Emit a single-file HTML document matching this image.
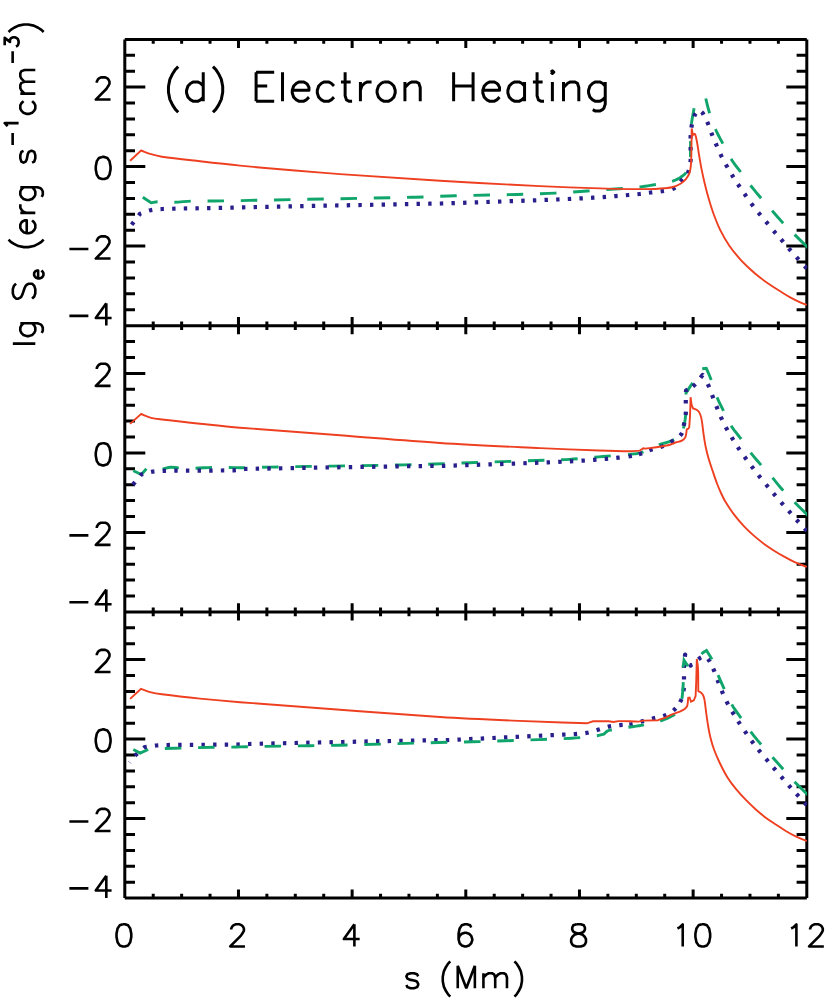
<!DOCTYPE html>
<html><head><meta charset="utf-8"><title>Electron Heating</title>
<style>html,body{margin:0;padding:0;background:#fff;font-family:"Liberation Sans",sans-serif;}svg{display:block}</style></head>
<body>
<svg width="830" height="998" viewBox="0 0 830 998">
<rect width="830" height="998" fill="#fff"/>
<path d="M124.8 39.4V898.0 M806.8 39.4V898.0 M124.8 39.4H806.8 M124.8 325.7H806.8 M124.8 611.9H806.8 M124.8 898.0H806.8 M153.22 39.4v4.3 M153.22 321.4v8.6 M153.22 607.6v8.6 M153.22 898.0v-4.3 M181.63 39.4v4.3 M181.63 321.4v8.6 M181.63 607.6v8.6 M181.63 898.0v-4.3 M210.05 39.4v4.3 M210.05 321.4v8.6 M210.05 607.6v8.6 M210.05 898.0v-4.3 M238.47 39.4v8.6 M238.47 317.09999999999997v17.2 M238.47 603.3v17.2 M238.47 898.0v-8.6 M266.88 39.4v4.3 M266.88 321.4v8.6 M266.88 607.6v8.6 M266.88 898.0v-4.3 M295.30 39.4v4.3 M295.30 321.4v8.6 M295.30 607.6v8.6 M295.30 898.0v-4.3 M323.72 39.4v4.3 M323.72 321.4v8.6 M323.72 607.6v8.6 M323.72 898.0v-4.3 M352.13 39.4v8.6 M352.13 317.09999999999997v17.2 M352.13 603.3v17.2 M352.13 898.0v-8.6 M380.55 39.4v4.3 M380.55 321.4v8.6 M380.55 607.6v8.6 M380.55 898.0v-4.3 M408.97 39.4v4.3 M408.97 321.4v8.6 M408.97 607.6v8.6 M408.97 898.0v-4.3 M437.38 39.4v4.3 M437.38 321.4v8.6 M437.38 607.6v8.6 M437.38 898.0v-4.3 M465.80 39.4v8.6 M465.80 317.09999999999997v17.2 M465.80 603.3v17.2 M465.80 898.0v-8.6 M494.22 39.4v4.3 M494.22 321.4v8.6 M494.22 607.6v8.6 M494.22 898.0v-4.3 M522.63 39.4v4.3 M522.63 321.4v8.6 M522.63 607.6v8.6 M522.63 898.0v-4.3 M551.05 39.4v4.3 M551.05 321.4v8.6 M551.05 607.6v8.6 M551.05 898.0v-4.3 M579.47 39.4v8.6 M579.47 317.09999999999997v17.2 M579.47 603.3v17.2 M579.47 898.0v-8.6 M607.88 39.4v4.3 M607.88 321.4v8.6 M607.88 607.6v8.6 M607.88 898.0v-4.3 M636.30 39.4v4.3 M636.30 321.4v8.6 M636.30 607.6v8.6 M636.30 898.0v-4.3 M664.72 39.4v4.3 M664.72 321.4v8.6 M664.72 607.6v8.6 M664.72 898.0v-4.3 M693.13 39.4v8.6 M693.13 317.09999999999997v17.2 M693.13 603.3v17.2 M693.13 898.0v-8.6 M721.55 39.4v4.3 M721.55 321.4v8.6 M721.55 607.6v8.6 M721.55 898.0v-4.3 M749.97 39.4v4.3 M749.97 321.4v8.6 M749.97 607.6v8.6 M749.97 898.0v-4.3 M778.38 39.4v4.3 M778.38 321.4v8.6 M778.38 607.6v8.6 M778.38 898.0v-4.3 M124.8 55.30h10.2 M806.8 55.30h-10.2 M124.8 71.20h10.2 M806.8 71.20h-10.2 M124.8 87.10h20.5 M806.8 87.10h-20.5 M124.8 103.00h10.2 M806.8 103.00h-10.2 M124.8 118.90h10.2 M806.8 118.90h-10.2 M124.8 134.80h10.2 M806.8 134.80h-10.2 M124.8 150.70h10.2 M806.8 150.70h-10.2 M124.8 166.60h20.5 M806.8 166.60h-20.5 M124.8 182.50h10.2 M806.8 182.50h-10.2 M124.8 198.40h10.2 M806.8 198.40h-10.2 M124.8 214.30h10.2 M806.8 214.30h-10.2 M124.8 230.20h10.2 M806.8 230.20h-10.2 M124.8 246.10h20.5 M806.8 246.10h-20.5 M124.8 262.00h10.2 M806.8 262.00h-10.2 M124.8 277.90h10.2 M806.8 277.90h-10.2 M124.8 293.80h10.2 M806.8 293.80h-10.2 M124.8 309.70h10.2 M806.8 309.70h-10.2 M124.8 341.60h10.2 M806.8 341.60h-10.2 M124.8 357.50h10.2 M806.8 357.50h-10.2 M124.8 373.40h20.5 M806.8 373.40h-20.5 M124.8 389.30h10.2 M806.8 389.30h-10.2 M124.8 405.20h10.2 M806.8 405.20h-10.2 M124.8 421.10h10.2 M806.8 421.10h-10.2 M124.8 437.00h10.2 M806.8 437.00h-10.2 M124.8 452.90h20.5 M806.8 452.90h-20.5 M124.8 468.80h10.2 M806.8 468.80h-10.2 M124.8 484.70h10.2 M806.8 484.70h-10.2 M124.8 500.60h10.2 M806.8 500.60h-10.2 M124.8 516.50h10.2 M806.8 516.50h-10.2 M124.8 532.40h20.5 M806.8 532.40h-20.5 M124.8 548.30h10.2 M806.8 548.30h-10.2 M124.8 564.20h10.2 M806.8 564.20h-10.2 M124.8 580.10h10.2 M806.8 580.10h-10.2 M124.8 596.00h10.2 M806.8 596.00h-10.2 M124.8 627.80h10.2 M806.8 627.80h-10.2 M124.8 643.70h10.2 M806.8 643.70h-10.2 M124.8 659.60h20.5 M806.8 659.60h-20.5 M124.8 675.50h10.2 M806.8 675.50h-10.2 M124.8 691.40h10.2 M806.8 691.40h-10.2 M124.8 707.30h10.2 M806.8 707.30h-10.2 M124.8 723.20h10.2 M806.8 723.20h-10.2 M124.8 739.10h20.5 M806.8 739.10h-20.5 M124.8 755.00h10.2 M806.8 755.00h-10.2 M124.8 770.90h10.2 M806.8 770.90h-10.2 M124.8 786.80h10.2 M806.8 786.80h-10.2 M124.8 802.70h10.2 M806.8 802.70h-10.2 M124.8 818.60h20.5 M806.8 818.60h-20.5 M124.8 834.50h10.2 M806.8 834.50h-10.2 M124.8 850.40h10.2 M806.8 850.40h-10.2 M124.8 866.30h10.2 M806.8 866.30h-10.2 M124.8 882.20h10.2 M806.8 882.20h-10.2" fill="none" stroke="#000" stroke-width="3.0" stroke-linecap="butt"/>
<defs><clipPath id="c"><rect x="124.80" y="39.40" width="682.30" height="858.60"/></clipPath><clipPath id="g0"><rect x="124.80" y="39.40" width="506.20" height="286.30"/></clipPath><clipPath id="b0"><rect x="124.80" y="39.40" width="508.50" height="286.30"/></clipPath><clipPath id="g1"><rect x="124.80" y="325.70" width="500.20" height="286.20"/></clipPath><clipPath id="b1"><rect x="124.80" y="325.70" width="499.50" height="286.20"/></clipPath><clipPath id="g2"><rect x="124.80" y="611.90" width="495.20" height="286.10"/></clipPath><clipPath id="b2"><rect x="124.80" y="611.90" width="500.50" height="286.10"/></clipPath></defs>
<g fill="none" stroke-linejoin="miter">
<path clip-path="url(#g0)" d="M142.80 197.20 L151.10 202.70 L151.10 202.70 C153.37 202.40 155.61 201.85 157.90 201.80 C163.47 201.68 169.03 202.32 174.60 202.20 C180.01 202.08 185.39 201.29 190.80 201.10 C196.50 200.89 202.20 201.03 207.90 201.00 C213.30 200.97 218.70 200.98 224.10 200.90 C232.60 200.78 241.10 200.56 249.60 200.40 C304.87 199.33 360.14 198.42 415.40 197.20 C426.40 196.96 437.40 196.31 448.40 196.00 C481.73 195.05 515.08 194.80 548.40 193.40 C570.53 192.47 592.61 190.55 614.70 189.00 C622.97 188.42 631.26 187.90 639.50 187.00 C645.00 186.40 650.45 185.45 655.90 184.50 C661.32 183.55 666.79 182.74 672.10 181.30 C674.56 180.63 676.87 179.44 679.10 178.20 C680.86 177.23 682.43 175.95 684.00 174.70 C684.77 174.08 685.52 173.40 686.10 172.60 C687.03 171.32 688.01 170.01 688.50 168.50 C689.39 165.75 689.98 162.88 690.20 160.00 C690.68 153.68 690.40 147.33 690.60 141.00 C690.77 135.66 690.74 130.31 691.30 125.00 C691.90 119.32 693.17 113.73 694.10 108.10 L694.10 108.10 L705.00 95.50 L705.00 95.50 C706.57 101.50 707.86 107.58 709.70 113.50 C711.36 118.86 713.25 124.16 715.50 129.30 C717.63 134.18 720.33 138.79 722.80 143.50 C725.50 148.65 727.91 153.98 731.00 158.90 C733.89 163.50 737.47 167.63 740.70 172.00 C743.97 176.43 747.12 180.95 750.50 185.30 C753.92 189.69 757.49 193.97 761.10 198.20 C764.69 202.40 768.44 206.46 772.10 210.60 C775.81 214.79 779.37 219.12 783.20 223.20 C786.88 227.12 790.78 230.82 794.60 234.60 C799.21 239.16 803.87 243.67 808.50 248.20" stroke="#10a56b" stroke-width="2.9" stroke-dasharray="16.5 16.75" stroke-dashoffset="0"/>
<path clip-path="url(#c)" d="M639.50 187.00L642.25 186.67L644.98 186.30L647.72 185.88L650.45 185.44L655.90 184.50 M672.10 181.30L673.32 180.92L674.51 180.47L675.69 179.96L677.41 179.11L679.10 178.20L680.39 177.42L681.62 176.56L684.19 174.54L685.30 173.54L686.10 172.60 M690.38 156.98L690.44 155.26L690.47 153.67L690.51 150.51L690.52 145.75L690.56 142.58L690.60 141.00 M691.41 124.05L691.65 122.17L691.86 120.76L692.33 117.94L693.61 110.91L694.08 108.23 M705.77 98.51L707.25 104.53L708.01 107.53L708.41 109.03L708.82 110.53L709.25 112.02L709.64 113.29 M715.45 129.18L716.04 130.51L716.61 131.72L717.19 132.91L718.40 135.28L719.65 137.63L722.18 142.32L722.84 143.58 M731.00 158.90L731.74 160.04L732.50 161.16L733.28 162.27L734.08 163.37L735.72 165.54L739.06 169.83L740.70 172.00 M750.50 185.30L752.22 187.49L753.96 189.66L755.73 191.81L758.40 195.02L761.10 198.20 M772.10 210.60L773.94 212.71L777.60 216.94L779.44 219.05L781.31 221.14L783.20 223.20 M794.60 234.60L799.22 239.14L807.94 247.66" stroke="#10a56b" stroke-width="2.9"/>
<path clip-path="url(#b0)" d="M131.64 224.68 L139.95 213.80 L139.95 213.80 C143.43 212.60 146.80 210.98 150.40 210.20 C154.26 209.37 158.25 209.12 162.20 209.00 C185.39 208.29 208.60 208.19 231.80 207.70 C235.67 207.62 239.53 207.38 243.40 207.30 C305.47 206.04 367.53 204.89 429.60 203.70 C433.47 203.63 437.33 203.63 441.20 203.50 C476.14 202.36 511.07 201.23 546.00 199.90 C561.67 199.30 577.35 198.68 593.00 197.70 C608.28 196.74 623.55 195.48 638.80 194.10 C642.75 193.74 646.66 192.99 650.60 192.50 C654.49 192.02 658.44 191.88 662.30 191.20 C666.19 190.51 670.36 190.34 673.80 188.40 C677.06 186.56 679.14 183.12 681.60 180.30 C683.94 177.62 686.72 175.14 688.20 171.90 C689.80 168.40 690.20 164.43 690.60 160.60 C691.01 156.65 690.60 152.67 690.60 148.70 C690.60 144.73 690.41 140.76 690.60 136.80 C690.78 133.05 691.00 129.28 691.70 125.60 C692.40 121.92 693.77 118.40 694.80 114.80 L694.80 114.80 L699.00 109.80 L699.00 109.80 L702.70 113.00 L702.70 113.00 C704.40 116.40 706.29 119.71 707.80 123.20 C709.33 126.72 710.39 130.43 711.80 134.00 C713.23 137.63 714.75 141.22 716.30 144.80 C717.88 148.46 719.45 152.12 721.20 155.70 C722.91 159.19 724.79 162.61 726.70 166.00 C728.60 169.37 730.56 172.71 732.60 176.00 C734.63 179.28 736.75 182.50 738.90 185.70 C741.02 188.86 743.22 191.97 745.40 195.10 C747.66 198.34 749.84 201.64 752.20 204.80 C754.54 207.94 757.01 210.98 759.50 214.00 C761.98 217.01 764.60 219.91 767.10 222.90 C769.67 225.97 772.10 229.15 774.70 232.20 C777.14 235.06 779.74 237.77 782.20 240.60 C784.77 243.57 787.22 246.64 789.80 249.60 C792.36 252.54 795.00 255.40 797.60 258.30 C800.66 261.70 803.73 265.10 806.80 268.50" stroke="#281e8c" stroke-width="4.2" stroke-dasharray="3.4 8.24" stroke-dashoffset="0"/>
<path clip-path="url(#c)" d="M637.42 194.22L639.79 194.00L640.81 193.89 M648.91 192.72L650.60 192.50L652.29 192.31 M660.62 191.46L663.98 190.93 M672.27 189.13L672.93 188.85L673.80 188.40L674.59 187.91L675.21 187.45 M680.51 181.61L681.60 180.30L682.74 179.04 M687.40 173.40L687.80 172.69L688.20 171.90L688.58 171.02L688.83 170.32 M690.42 162.29L690.60 160.60L690.69 159.61L690.73 158.90 M690.62 150.40L690.59 147.00 M690.54 138.50L690.60 136.80L690.69 135.10 M691.36 127.61L691.53 126.52L691.70 125.60L691.99 124.27 M694.31 116.43L694.80 114.80L695.89 113.50 M701.58 112.03L702.70 113.00L703.57 114.71 M707.18 121.82L707.80 123.20L708.52 124.94 M711.28 132.64L712.16 134.91L712.52 135.80 M715.70 143.41L717.05 146.53 M720.46 154.17L721.63 156.57L721.96 157.22 M725.87 164.52L727.54 167.48 M731.71 174.55L733.50 177.44 M737.91 184.22L739.81 187.04 M744.43 193.71L746.37 196.50 M751.19 203.43L752.79 205.58L753.22 206.16 M758.37 212.63L760.54 215.25 M765.95 221.54L768.13 224.15 M773.61 230.90L775.31 232.91L775.81 233.48 M781.08 239.32L782.84 241.34L783.31 241.89 M788.69 248.31L790.92 250.88 M796.46 257.04L798.74 259.56 M804.53 265.98L806.80 268.50" stroke="#281e8c" stroke-width="4.2" stroke-linejoin="round"/>
<path clip-path="url(#g1)" d="M133.30 470.80 L141.40 474.50 L141.40 474.50 L147.20 467.90 L147.20 467.90 C149.80 468.47 152.35 469.39 155.00 469.60 C157.46 469.79 159.96 469.48 162.40 469.10 C165.17 468.67 167.80 467.41 170.60 467.20 C173.27 467.00 175.93 467.79 178.60 467.90 C184.23 468.13 189.87 468.28 195.50 468.20 C200.94 468.12 206.36 467.51 211.80 467.40 C217.43 467.28 223.07 467.43 228.70 467.50 C233.13 467.56 237.57 467.84 242.00 467.80 C251.47 467.71 260.93 467.27 270.40 467.10 C314.73 466.30 359.07 465.74 403.40 464.90 C413.67 464.71 423.93 464.34 434.20 464.00 C446.10 463.61 458.00 463.11 469.90 462.70 C480.97 462.31 492.03 461.97 503.10 461.60 C514.20 461.23 525.30 460.87 536.40 460.50 C547.40 460.13 558.41 460.06 569.40 459.40 C580.59 458.73 591.73 457.45 602.90 456.50 C613.27 455.62 623.66 455.08 634.00 453.90 C637.15 453.54 640.32 452.98 643.30 451.90 C648.63 449.97 653.53 446.98 658.80 444.90 C663.84 442.91 669.29 442.00 674.20 439.70 C676.78 438.49 679.35 436.83 681.00 434.50 C682.76 432.02 683.35 428.87 684.00 425.90 C684.96 421.53 685.53 417.07 685.80 412.60 C686.20 406.08 685.93 399.53 686.00 393.00 L686.00 393.00 C688.13 389.70 690.22 386.37 692.40 383.10 C695.62 378.27 698.93 373.50 702.20 368.70 L702.20 368.70 L706.30 368.30 L706.30 368.30 C707.93 372.17 709.75 375.96 711.20 379.90 C713.22 385.37 714.54 391.08 716.70 396.50 C718.65 401.40 721.17 406.07 723.50 410.80 C725.97 415.80 728.16 420.97 731.10 425.70 C734.04 430.43 737.83 434.59 741.10 439.10 C744.36 443.59 747.32 448.30 750.70 452.70 C753.99 456.98 757.56 461.03 761.10 465.10 C764.83 469.39 768.77 473.50 772.50 477.80 C776.14 482.00 779.47 486.48 783.20 490.60 C786.84 494.62 790.77 498.36 794.60 502.20 C799.21 506.83 803.87 511.40 808.50 516.00" stroke="#10a56b" stroke-width="2.9" stroke-dasharray="16.5 16.75" stroke-dashoffset="0"/>
<path clip-path="url(#c)" d="M627.98 454.52L631.41 454.18L634.00 453.90L635.58 453.70L637.15 453.46L638.71 453.17L640.26 452.82L641.79 452.40L643.47 451.83 M658.80 444.90L660.07 444.42L661.35 443.98L662.64 443.57L665.25 442.80L667.85 442.03L669.15 441.63L670.43 441.20L671.71 440.75L672.96 440.25L674.20 439.70 M683.42 428.48L684.00 425.90L684.45 423.71L684.83 421.50L685.16 419.29L685.43 417.06L685.64 414.83L685.80 412.60 M685.99 394.50L686.00 393.00L690.25 386.39L691.86 383.92L692.57 382.85 M702.20 368.70L706.30 368.30L707.55 371.19L709.24 375.04L710.05 376.97L710.83 378.92L711.20 379.90 M717.06 397.39L717.72 398.93L718.26 400.14L719.38 402.53L720.54 404.90L722.91 409.62L723.50 410.80 M731.10 425.70L731.85 426.87L732.64 428.02L733.44 429.16L734.27 430.28L735.98 432.48L738.57 435.77L739.43 436.87L740.27 437.98L741.10 439.10 M750.70 452.70L752.37 454.82L754.07 456.91L755.81 458.98L758.45 462.05L761.10 465.10 M772.50 477.80L774.30 479.92L776.06 482.07L778.69 485.31L780.47 487.45L781.36 488.51L782.27 489.56L783.20 490.60 M794.60 502.20L798.06 505.66L807.95 515.45" stroke="#10a56b" stroke-width="2.9"/>
<path clip-path="url(#b1)" d="M132.90 484.70 L141.40 474.50 L141.40 474.50 C145.10 473.53 148.73 472.22 152.50 471.60 C156.33 470.98 160.22 470.86 164.10 470.80 C187.33 470.43 210.57 470.81 233.80 470.30 C237.66 470.21 241.44 469.09 245.30 469.00 C307.39 467.62 369.50 466.87 431.60 465.90 C435.37 465.84 439.14 466.02 442.90 465.90 C478.07 464.82 513.24 463.63 548.40 462.30 C560.07 461.86 571.74 461.28 583.40 460.60 C591.04 460.15 598.67 459.53 606.30 458.90 C610.31 458.57 614.31 458.15 618.30 457.70 C622.27 457.25 626.27 456.91 630.20 456.20 C633.68 455.57 637.12 454.74 640.50 453.70 C644.07 452.60 647.46 450.99 651.00 449.80 C654.63 448.58 658.45 447.93 662.00 446.50 C665.51 445.09 668.90 443.33 672.10 441.30 C675.33 439.25 679.01 437.44 681.20 434.30 C683.20 431.43 683.25 427.61 684.00 424.20 C684.79 420.60 685.51 416.97 685.80 413.30 C686.11 409.48 685.77 405.63 685.80 401.80 C685.83 398.03 685.93 394.27 686.00 390.50 L686.00 390.50 C688.73 388.73 691.82 387.42 694.20 385.20 C697.42 382.19 699.80 378.40 702.60 375.00 L702.60 375.00 C704.57 378.57 706.78 382.01 708.50 385.70 C710.16 389.26 711.29 393.04 712.70 396.70 C714.12 400.37 715.53 404.05 717.00 407.70 C718.43 411.25 719.81 414.82 721.40 418.30 C723.01 421.82 724.75 425.30 726.60 428.70 C728.45 432.10 730.48 435.40 732.50 438.70 C734.52 442.00 736.55 445.29 738.70 448.50 C740.88 451.76 743.20 454.93 745.50 458.10 C747.80 461.26 750.14 464.38 752.50 467.50 C754.81 470.55 757.11 473.61 759.50 476.60 C761.98 479.71 764.55 482.74 767.10 485.80 C769.55 488.74 772.02 491.68 774.50 494.60 C777.05 497.61 779.61 500.62 782.20 503.60 C784.71 506.49 787.26 509.34 789.80 512.20 C792.40 515.14 794.97 518.09 797.60 521.00 C800.64 524.36 803.73 527.67 806.80 531.00" stroke="#281e8c" stroke-width="4.2" stroke-dasharray="3.4 8.24" stroke-dashoffset="0"/>
<path clip-path="url(#c)" d="M628.52 456.48L630.20 456.20L631.87 455.88 M638.87 454.18L640.50 453.70L642.11 453.17 M649.40 450.37L651.00 449.80L652.62 449.29 M660.40 447.09L661.11 446.84L662.00 446.50L663.57 445.84 M670.65 442.19L673.55 440.41 M680.13 435.62L680.62 435.06L681.20 434.30L681.66 433.56L682.03 432.82 M683.68 425.87L684.00 424.20L684.36 422.54 M685.63 414.99L685.80 413.30L685.90 411.60 M685.81 403.50L685.80 401.80L685.82 400.10 M685.97 391.96L686.00 390.50L687.66 389.49 M692.89 386.29L693.59 385.74L694.20 385.20L694.99 384.43L695.40 384.00 M700.52 377.66L701.91 375.86L702.60 375.00L702.61 375.02 M707.75 384.17L708.50 385.70L709.19 387.26 M712.10 395.11L713.31 398.29 M716.37 406.12L717.63 409.28 M720.71 416.75L721.81 419.18L722.12 419.84 M725.80 427.20L727.07 429.55L727.42 430.19 M731.61 437.25L733.39 440.15 M737.76 447.08L739.25 449.31L739.65 449.91 M744.50 456.72L746.50 459.47 M751.48 466.14L753.53 468.86 M758.45 475.27L760.57 477.92 M766.01 484.50L768.19 487.11 M773.40 493.30L775.60 495.90 M781.09 502.32L783.32 504.88 M788.67 510.93L790.93 513.47 M796.46 519.74L798.74 522.26 M804.45 528.45L806.75 530.95" stroke="#281e8c" stroke-width="4.2" stroke-linejoin="round"/>
<path clip-path="url(#b2)" d="M134.90 755.70 L144.60 747.30 L144.60 747.30 C148.37 746.70 152.10 745.88 155.90 745.50 C159.82 745.11 163.76 745.05 167.70 745.00 C190.93 744.71 214.17 744.79 237.40 744.50 C241.34 744.45 245.26 744.09 249.20 744.00 C280.27 743.26 311.33 742.65 342.40 742.00 C373.50 741.35 404.60 740.67 435.70 740.10 C439.37 740.03 443.04 740.26 446.70 740.10 C485.61 738.42 524.50 736.42 563.40 734.60 C567.27 734.42 571.14 734.38 575.00 734.10 C578.84 733.82 582.71 733.61 586.50 732.90 C590.34 732.18 594.04 730.87 597.80 729.80 C601.44 728.77 605.00 727.39 608.70 726.60 C612.25 725.85 615.89 725.57 619.50 725.20 C623.32 724.81 627.21 724.95 631.00 724.30 C634.84 723.64 638.53 722.30 642.30 721.30 C646.07 720.30 649.83 719.27 653.60 718.30 C657.33 717.34 661.26 717.00 664.80 715.50 C668.34 714.00 671.78 712.02 674.60 709.40 C677.23 706.95 679.31 703.87 680.80 700.60 C682.40 697.09 683.16 693.22 683.70 689.40 C684.24 685.60 683.95 681.73 684.00 677.90 C684.05 674.00 683.82 670.10 684.00 666.20 C684.18 662.29 684.73 658.40 685.10 654.50 L685.10 654.50 L690.60 665.50 L690.60 665.50 C693.63 663.07 696.54 660.47 699.70 658.20 C701.19 657.13 702.90 656.40 704.50 655.50 L704.50 655.50 C706.00 657.10 707.82 658.45 709.00 660.30 C710.98 663.40 712.45 666.82 713.90 670.20 C715.49 673.89 716.66 677.75 718.10 681.50 C719.49 685.12 720.87 688.74 722.40 692.30 C723.94 695.88 725.52 699.44 727.30 702.90 C729.09 706.38 731.10 709.74 733.10 713.10 C735.03 716.34 737.04 719.54 739.10 722.70 C741.25 726.00 743.46 729.26 745.70 732.50 C747.93 735.73 750.16 738.95 752.50 742.10 C754.76 745.15 757.11 748.14 759.50 751.10 C761.98 754.18 764.54 757.18 767.10 760.20 C769.55 763.09 772.04 765.93 774.50 768.80 C777.07 771.80 779.63 774.81 782.20 777.80 C784.73 780.74 787.23 783.70 789.80 786.60 C792.36 789.50 794.98 792.35 797.60 795.20 C800.65 798.52 803.73 801.80 806.80 805.10" stroke="#281e8c" stroke-width="4.2" stroke-dasharray="3.4 8.24" stroke-dashoffset="0"/>
<path clip-path="url(#c)" d="M629.32 724.54L630.05 724.45L631.00 724.30L632.67 723.97 M640.66 721.76L643.94 720.86 M651.95 718.73L653.60 718.30L655.26 717.91 M663.21 716.09L663.91 715.85L664.80 715.50L666.35 714.81 M673.32 710.51L673.88 710.04L674.60 709.40L675.25 708.78L675.80 708.20 M680.05 702.13L680.42 701.41L680.80 700.60L681.18 699.72L681.45 699.03 M683.45 691.08L683.70 689.40L683.82 688.45L683.89 687.71 M684.00 679.60L684.01 676.20 M683.95 667.90L684.00 666.20L684.10 664.50 M684.88 656.69L685.10 654.50L685.64 655.57 M689.84 663.98L690.60 665.50L691.92 664.43 M698.34 659.21L699.70 658.20L700.85 657.45L701.14 657.29 M707.97 658.95L708.69 659.85L709.00 660.30L709.88 661.75 M713.23 668.64L714.29 671.13L714.55 671.77 M717.50 679.91L718.71 683.09 M721.74 690.73L723.07 693.86 M726.54 701.38L727.30 702.90L728.09 704.40 M732.23 711.64L733.98 714.56 M738.18 721.27L740.03 724.12 M744.74 731.10L746.67 733.90 M751.49 740.73L753.52 743.46 M758.44 749.77L760.57 752.42 M766.00 758.90L768.20 761.49 M773.39 767.51L775.61 770.09 M781.09 776.51L783.31 779.09 M788.68 785.32L790.93 787.87 M796.45 793.95L798.75 796.45 M804.44 802.56L806.75 805.05" stroke="#281e8c" stroke-width="4.2" stroke-linejoin="round"/>
<path clip-path="url(#g2)" d="M133.30 749.50 L140.20 753.10 L140.20 753.10 L148.20 749.50 L148.20 749.50 C150.80 749.27 153.39 748.96 156.00 748.80 C158.93 748.62 161.87 748.58 164.80 748.50 C170.10 748.35 175.40 748.24 180.70 748.10 C186.50 747.94 192.30 747.74 198.10 747.60 C203.40 747.47 208.70 747.38 214.00 747.30 C219.77 747.21 225.53 747.19 231.30 747.10 C234.20 747.06 237.10 746.96 240.00 746.90 C248.00 746.73 256.00 746.54 264.00 746.40 C288.93 745.97 313.87 745.76 338.80 745.20 C372.14 744.46 405.47 743.35 438.80 742.50 C449.97 742.22 461.13 742.08 472.30 741.80 C483.37 741.52 494.43 741.17 505.50 740.80 C516.60 740.43 527.70 740.04 538.80 739.60 C549.80 739.17 560.81 738.92 571.80 738.20 C580.25 737.65 588.70 736.87 597.10 735.80 C599.42 735.50 601.63 734.67 603.90 734.10 L603.90 734.10 C605.10 733.07 606.12 731.77 607.50 731.00 C608.74 730.31 610.23 730.20 611.60 729.80 L611.60 729.80 C617.20 728.97 622.80 728.15 628.40 727.30 C633.60 726.51 638.84 725.91 644.00 724.90 C649.44 723.84 654.95 722.90 660.20 721.10 C665.31 719.35 670.33 717.17 674.90 714.30 C676.88 713.06 678.53 711.13 679.50 709.00 C680.93 705.85 681.42 702.33 681.90 698.90 C682.69 693.34 683.08 687.72 683.30 682.10 C683.48 677.40 682.95 672.70 683.10 668.00 C683.18 665.38 683.70 662.80 684.00 660.20 L684.00 660.20 L688.00 666.30 L688.00 666.30 C689.33 666.30 690.82 666.93 692.00 666.30 C694.04 665.21 695.59 663.33 697.00 661.50 C698.78 659.19 699.59 656.21 701.50 654.00 C702.83 652.46 704.83 651.67 706.50 650.50 L706.50 650.50 C708.20 653.33 710.19 656.01 711.60 659.00 C714.07 664.23 715.85 669.77 718.10 675.10 C720.08 679.80 722.15 684.47 724.30 689.10 C726.69 694.24 728.86 699.50 731.70 704.40 C734.48 709.19 737.94 713.55 741.10 718.10 C744.27 722.65 747.35 727.28 750.70 731.70 C754.02 736.08 757.53 740.32 761.10 744.50 C764.80 748.82 768.71 752.96 772.50 757.20 C776.07 761.19 779.62 765.21 783.20 769.20 C786.99 773.41 790.67 777.72 794.60 781.80 C799.11 786.49 803.87 790.93 808.50 795.50" stroke="#10a56b" stroke-width="2.9" stroke-dasharray="16.5 16.75" stroke-dashoffset="0"/>
<path clip-path="url(#c)" d="M628.40 727.30L632.31 726.73L636.21 726.18L638.82 725.79L641.41 725.37L644.00 724.90 M660.20 721.10L661.47 720.65L662.74 720.19L664.01 719.70L665.26 719.20L666.51 718.67L667.75 718.12L668.98 717.55L670.19 716.95L671.39 716.33L672.58 715.68L673.75 715.00L674.90 714.30 M681.90 698.90L682.09 697.51L682.26 696.11L682.56 693.32L682.81 690.52L683.01 687.71L683.18 684.91L683.30 682.10 M683.12 667.50L683.23 666.04L683.47 664.09L683.92 660.85L684.00 660.20L688.00 666.30 M701.50 654.00L702.22 653.29L703.02 652.67L704.31 651.84L705.64 651.06L706.50 650.50L707.82 652.60L709.16 654.69L710.03 656.10L710.85 657.53L711.60 659.00L711.79 659.41 M718.10 675.10L719.60 678.62L721.14 682.13L722.70 685.62L724.30 689.10 M731.70 704.40L732.41 705.59L733.14 706.76L733.90 707.92L734.67 709.07L736.25 711.34L739.50 715.84L741.10 718.10 M750.70 731.70L752.37 733.88L754.08 736.04L755.81 738.18L757.55 740.30L759.32 742.41L761.10 744.50 M772.50 757.20L781.41 767.20L783.20 769.20 M794.60 781.80L795.73 782.97L798.02 785.28L800.34 787.56L806.17 793.23L808.00 795.00" stroke="#10a56b" stroke-width="2.9"/>
<path clip-path="url(#c)" d="M130.10 160.70 L141.00 150.50 L141.00 150.50 C144.37 151.73 147.66 153.18 151.10 154.20 C154.64 155.25 158.24 156.17 161.90 156.70 C174.56 158.54 187.29 159.84 200.00 161.30 C213.32 162.83 226.65 164.36 240.00 165.65 C258.32 167.42 276.66 168.95 295.00 170.50 C309.99 171.77 324.99 173.03 340.00 174.10 C373.32 176.47 406.65 178.80 440.00 180.80 C473.32 182.80 506.66 184.52 540.00 186.10 C559.99 187.05 580.00 187.73 600.00 188.40 C610.00 188.73 620.00 188.94 630.00 189.10 C635.00 189.18 640.00 189.17 645.00 189.10 C649.33 189.04 653.67 188.99 658.00 188.70 C662.71 188.39 667.49 188.31 672.10 187.30 C675.06 186.65 677.90 185.36 680.50 183.80 C682.63 182.52 684.54 180.83 686.10 178.90 C687.61 177.04 688.84 174.88 689.60 172.60 C690.50 169.91 690.77 167.03 691.00 164.20 C691.37 159.51 691.31 154.80 691.40 150.10 C691.54 142.87 691.60 135.63 691.70 128.40 L691.70 128.40 L692.90 135.20 L692.90 135.20 C693.23 134.83 693.46 134.32 693.90 134.10 C694.26 133.92 694.95 133.73 695.10 134.10 C696.09 136.62 696.49 139.34 697.00 142.00 C697.76 145.98 698.23 150.01 698.90 154.00 C699.76 159.14 700.58 164.29 701.60 169.40 C702.62 174.52 703.76 179.63 705.00 184.70 C706.26 189.83 707.60 194.94 709.10 200.00 C710.54 204.87 712.03 209.74 713.80 214.50 C715.80 219.88 717.84 225.26 720.40 230.40 C723.09 235.79 726.10 241.03 729.50 246.00 C732.59 250.52 736.16 254.71 739.80 258.80 C743.00 262.39 746.48 265.72 750.00 269.00 C753.22 272.00 756.55 274.87 760.00 277.60 C763.22 280.15 766.60 282.49 770.00 284.80 C773.34 287.06 776.77 289.18 780.20 291.30 C783.51 293.35 786.79 295.43 790.20 297.30 C793.47 299.10 796.81 300.75 800.20 302.30 C802.35 303.28 804.60 304.03 806.80 304.90" stroke="#ee4020" stroke-width="1.9"/>
<path clip-path="url(#c)" d="M130.10 423.90 L141.00 414.00 L141.00 414.00 C144.37 415.27 147.62 416.88 151.10 417.80 C154.62 418.73 158.28 419.06 161.90 419.50 C174.58 421.03 187.29 422.37 200.00 423.70 C213.33 425.10 226.65 426.59 240.00 427.70 C273.32 430.46 306.67 432.75 340.00 435.30 C373.33 437.85 406.64 440.86 440.00 443.00 C473.31 445.13 506.66 446.53 540.00 448.10 C559.66 449.03 579.33 449.82 599.00 450.50 C609.33 450.86 619.66 451.17 630.00 451.20 C633.27 451.21 636.53 450.80 639.80 450.60 L639.80 450.60 L643.30 448.20 L643.30 448.20 L645.40 448.60 L645.40 448.60 C649.63 448.07 653.88 447.62 658.10 447.00 C661.38 446.52 664.66 446.02 667.90 445.30 C669.34 444.98 670.71 444.40 672.10 443.90 C673.28 443.47 674.41 442.90 675.60 442.50 C677.68 441.80 679.98 441.66 681.90 440.60 C683.35 439.80 684.74 438.61 685.40 437.10 C686.45 434.71 686.33 431.97 686.80 429.40 L686.80 429.40 L688.20 428.70 L688.20 428.70 L689.20 427.30 L689.20 427.30 C689.47 423.57 689.83 419.84 690.00 416.10 C690.29 409.80 690.40 403.50 690.60 397.20 L690.60 397.20 C690.97 399.77 691.14 402.37 691.70 404.90 C691.97 406.13 692.63 407.23 693.10 408.40 L693.10 408.40 C694.27 408.87 695.55 409.10 696.60 409.80 C697.70 410.53 698.77 411.44 699.40 412.60 C700.45 414.55 701.08 416.73 701.50 418.90 C702.48 423.99 702.83 429.18 703.60 434.30 C704.23 438.54 704.84 442.80 705.70 447.00 C706.47 450.77 707.43 454.50 708.50 458.20 C709.70 462.34 711.13 466.41 712.50 470.50 C713.90 474.68 715.24 478.88 716.80 483.00 C718.08 486.38 719.50 489.71 721.00 493.00 C722.24 495.71 723.45 498.45 725.00 501.00 C727.83 505.66 730.81 510.25 734.10 514.60 C737.19 518.69 740.59 522.56 744.10 526.30 C747.26 529.67 750.63 532.85 754.10 535.90 C757.30 538.72 760.67 541.36 764.10 543.90 C767.34 546.30 770.70 548.53 774.10 550.70 C777.40 552.80 780.78 554.79 784.20 556.70 C787.48 558.53 790.78 560.35 794.20 561.90 C798.32 563.76 802.60 565.23 806.80 566.90" stroke="#ee4020" stroke-width="1.9"/>
<path clip-path="url(#c)" d="M130.10 698.90 L141.00 688.80 L141.00 688.80 C144.37 690.00 147.64 691.49 151.10 692.40 C154.63 693.33 158.27 693.84 161.90 694.30 C174.58 695.91 187.28 697.31 200.00 698.60 C213.32 699.95 226.66 701.13 240.00 702.20 C273.32 704.87 306.66 707.33 340.00 709.80 C373.33 712.27 406.65 714.91 440.00 717.00 C464.08 718.51 488.19 719.57 512.30 720.60 C537.19 721.67 562.10 722.40 587.00 723.30 L587.00 723.30 L593.00 721.30 L593.00 721.30 L608.70 721.30 L608.70 721.30 L613.50 722.00 L613.50 722.00 L618.30 721.10 L618.30 721.10 C622.20 721.17 626.10 721.20 630.00 721.30 C632.80 721.37 635.60 721.50 638.40 721.60 L638.40 721.60 L644.00 720.60 L644.00 720.60 L658.10 720.20 L658.10 720.20 C660.90 719.17 663.75 718.26 666.50 717.10 C668.42 716.29 670.18 715.11 672.10 714.30 C674.38 713.34 676.82 712.76 679.10 711.80 C681.02 710.99 683.01 710.23 684.70 709.00 C685.77 708.22 686.80 707.17 687.20 705.90 C688.01 703.30 687.87 700.50 688.20 697.80 L688.20 697.80 L689.60 697.50 L689.60 697.50 L691.00 701.70 L691.00 701.70 L693.80 700.30 L693.80 700.30 L695.60 696.10 L695.60 696.10 C695.80 691.43 696.05 686.77 696.20 682.10 C696.45 674.37 696.60 666.63 696.80 658.90 L696.80 658.90 C697.20 661.97 697.86 665.01 698.00 668.10 C698.36 675.79 698.20 683.50 698.30 691.20 L698.30 691.20 C698.70 691.37 699.13 691.48 699.50 691.70 C700.20 692.12 700.93 692.52 701.50 693.10 C702.18 693.80 702.80 694.61 703.20 695.50 C703.81 696.87 704.25 698.32 704.50 699.80 C705.25 704.14 705.59 708.54 706.20 712.90 C706.86 717.61 707.49 722.32 708.30 727.00 C708.95 730.75 709.65 734.51 710.60 738.20 C711.62 742.18 712.77 746.14 714.20 750.00 C715.84 754.42 717.75 758.75 719.80 763.00 C722.18 767.93 724.61 772.85 727.50 777.50 C730.06 781.61 733.03 785.46 736.10 789.20 C739.24 793.03 742.64 796.65 746.10 800.20 C749.31 803.49 752.66 806.65 756.10 809.70 C759.33 812.56 762.65 815.32 766.10 817.90 C769.35 820.33 772.82 822.45 776.20 824.70 C779.52 826.92 782.78 829.25 786.20 831.30 C789.45 833.25 792.78 835.07 796.20 836.70 C799.65 838.34 803.27 839.63 806.80 841.10" stroke="#ee4020" stroke-width="1.9"/>
</g>
<path d="M128 761.1L131.6 763.7" stroke="#8f8cc4" stroke-width="0.8" fill="none"/>
<path transform="translate(123.90 946.45) translate(-10.55 0)" d="M9.49 -22.15L6.33 -21.10L4.22 -17.93L3.17 -12.66L3.17 -9.49L4.22 -4.22L6.33 -1.05L9.49 0.00L11.60 0.00L14.77 -1.05L16.88 -4.22L17.93 -9.49L17.93 -12.66L16.88 -17.93L14.77 -21.10L11.60 -22.15L9.49 -22.15" fill="none" stroke="#000" stroke-width="2.6" stroke-linecap="butt" stroke-linejoin="round"/>
<path transform="translate(237.57 946.45) translate(-10.55 0)" d="M4.22 -16.88L4.22 -17.93L5.27 -20.04L6.33 -21.10L8.44 -22.15L12.66 -22.15L14.77 -21.10L15.82 -20.04L16.88 -17.93L16.88 -15.82L15.82 -13.71L13.71 -10.55L3.17 0.00L17.93 0.00" fill="none" stroke="#000" stroke-width="2.6" stroke-linecap="butt" stroke-linejoin="round"/>
<path transform="translate(351.23 946.45) translate(-10.55 0)" d="M13.71 -22.15L3.17 -7.38L18.99 -7.38 M13.71 -22.15L13.71 0.00" fill="none" stroke="#000" stroke-width="2.6" stroke-linecap="butt" stroke-linejoin="round"/>
<path transform="translate(464.90 946.45) translate(-10.55 0)" d="M16.88 -18.99L15.82 -21.10L12.66 -22.15L10.55 -22.15L7.38 -21.10L5.27 -17.93L4.22 -12.66L4.22 -7.38L5.27 -3.17L7.38 -1.05L10.55 0.00L11.60 0.00L14.77 -1.05L16.88 -3.17L17.93 -6.33L17.93 -7.38L16.88 -10.55L14.77 -12.66L11.60 -13.71L10.55 -13.71L7.38 -12.66L5.27 -10.55L4.22 -7.38" fill="none" stroke="#000" stroke-width="2.6" stroke-linecap="butt" stroke-linejoin="round"/>
<path transform="translate(578.57 946.45) translate(-10.55 0)" d="M8.44 -22.15L5.27 -21.10L4.22 -18.99L4.22 -16.88L5.27 -14.77L7.38 -13.71L11.60 -12.66L14.77 -11.60L16.88 -9.49L17.93 -7.38L17.93 -4.22L16.88 -2.11L15.82 -1.05L12.66 0.00L8.44 0.00L5.27 -1.05L4.22 -2.11L3.17 -4.22L3.17 -7.38L4.22 -9.49L6.33 -11.60L9.49 -12.66L13.71 -13.71L15.82 -14.77L16.88 -16.88L16.88 -18.99L15.82 -21.10L12.66 -22.15L8.44 -22.15" fill="none" stroke="#000" stroke-width="2.6" stroke-linecap="butt" stroke-linejoin="round"/>
<path transform="translate(692.23 946.45) translate(-21.10 0)" d="M6.33 -17.93L8.44 -18.99L11.60 -22.15L11.60 0.00 M30.59 -22.15L27.43 -21.10L25.32 -17.93L24.26 -12.66L24.26 -9.49L25.32 -4.22L27.43 -1.05L30.59 0.00L32.70 0.00L35.87 -1.05L37.98 -4.22L39.03 -9.49L39.03 -12.66L37.98 -17.93L35.87 -21.10L32.70 -22.15L30.59 -22.15" fill="none" stroke="#000" stroke-width="2.6" stroke-linecap="butt" stroke-linejoin="round"/>
<path transform="translate(805.90 946.45) translate(-21.10 0)" d="M6.33 -17.93L8.44 -18.99L11.60 -22.15L11.60 0.00 M25.32 -16.88L25.32 -17.93L26.37 -20.04L27.43 -21.10L29.54 -22.15L33.76 -22.15L35.87 -21.10L36.92 -20.04L37.98 -17.93L37.98 -15.82L36.92 -13.71L34.81 -10.55L24.26 0.00L39.03 0.00" fill="none" stroke="#000" stroke-width="2.6" stroke-linecap="butt" stroke-linejoin="round"/>
<path transform="translate(113.70 99.55) translate(-21.10 0)" d="M4.22 -16.88L4.22 -17.93L5.27 -20.04L6.33 -21.10L8.44 -22.15L12.66 -22.15L14.77 -21.10L15.82 -20.04L16.88 -17.93L16.88 -15.82L15.82 -13.71L13.71 -10.55L3.17 0.00L17.93 0.00" fill="none" stroke="#000" stroke-width="2.6" stroke-linecap="butt" stroke-linejoin="round"/>
<path transform="translate(113.70 179.05) translate(-21.10 0)" d="M9.49 -22.15L6.33 -21.10L4.22 -17.93L3.17 -12.66L3.17 -9.49L4.22 -4.22L6.33 -1.05L9.49 0.00L11.60 0.00L14.77 -1.05L16.88 -4.22L17.93 -9.49L17.93 -12.66L16.88 -17.93L14.77 -21.10L11.60 -22.15L9.49 -22.15" fill="none" stroke="#000" stroke-width="2.6" stroke-linecap="butt" stroke-linejoin="round"/>
<path transform="translate(113.70 258.55) translate(-48.53 0)" d="M4.22 -9.49L23.21 -9.49 M31.65 -16.88L31.65 -17.93L32.70 -20.04L33.76 -21.10L35.87 -22.15L40.09 -22.15L42.20 -21.10L43.25 -20.04L44.31 -17.93L44.31 -15.82L43.25 -13.71L41.14 -10.55L30.59 0.00L45.36 0.00" fill="none" stroke="#000" stroke-width="2.6" stroke-linecap="butt" stroke-linejoin="round"/>
<path transform="translate(113.70 325.40) translate(-48.53 0)" d="M4.22 -9.49L23.21 -9.49 M41.14 -22.15L30.59 -7.38L46.42 -7.38 M41.14 -22.15L41.14 0.00" fill="none" stroke="#000" stroke-width="2.6" stroke-linecap="butt" stroke-linejoin="round"/>
<path transform="translate(113.70 385.85) translate(-21.10 0)" d="M4.22 -16.88L4.22 -17.93L5.27 -20.04L6.33 -21.10L8.44 -22.15L12.66 -22.15L14.77 -21.10L15.82 -20.04L16.88 -17.93L16.88 -15.82L15.82 -13.71L13.71 -10.55L3.17 0.00L17.93 0.00" fill="none" stroke="#000" stroke-width="2.6" stroke-linecap="butt" stroke-linejoin="round"/>
<path transform="translate(113.70 465.35) translate(-21.10 0)" d="M9.49 -22.15L6.33 -21.10L4.22 -17.93L3.17 -12.66L3.17 -9.49L4.22 -4.22L6.33 -1.05L9.49 0.00L11.60 0.00L14.77 -1.05L16.88 -4.22L17.93 -9.49L17.93 -12.66L16.88 -17.93L14.77 -21.10L11.60 -22.15L9.49 -22.15" fill="none" stroke="#000" stroke-width="2.6" stroke-linecap="butt" stroke-linejoin="round"/>
<path transform="translate(113.70 544.85) translate(-48.53 0)" d="M4.22 -9.49L23.21 -9.49 M31.65 -16.88L31.65 -17.93L32.70 -20.04L33.76 -21.10L35.87 -22.15L40.09 -22.15L42.20 -21.10L43.25 -20.04L44.31 -17.93L44.31 -15.82L43.25 -13.71L41.14 -10.55L30.59 0.00L45.36 0.00" fill="none" stroke="#000" stroke-width="2.6" stroke-linecap="butt" stroke-linejoin="round"/>
<path transform="translate(113.70 611.70) translate(-48.53 0)" d="M4.22 -9.49L23.21 -9.49 M41.14 -22.15L30.59 -7.38L46.42 -7.38 M41.14 -22.15L41.14 0.00" fill="none" stroke="#000" stroke-width="2.6" stroke-linecap="butt" stroke-linejoin="round"/>
<path transform="translate(113.70 672.05) translate(-21.10 0)" d="M4.22 -16.88L4.22 -17.93L5.27 -20.04L6.33 -21.10L8.44 -22.15L12.66 -22.15L14.77 -21.10L15.82 -20.04L16.88 -17.93L16.88 -15.82L15.82 -13.71L13.71 -10.55L3.17 0.00L17.93 0.00" fill="none" stroke="#000" stroke-width="2.6" stroke-linecap="butt" stroke-linejoin="round"/>
<path transform="translate(113.70 751.55) translate(-21.10 0)" d="M9.49 -22.15L6.33 -21.10L4.22 -17.93L3.17 -12.66L3.17 -9.49L4.22 -4.22L6.33 -1.05L9.49 0.00L11.60 0.00L14.77 -1.05L16.88 -4.22L17.93 -9.49L17.93 -12.66L16.88 -17.93L14.77 -21.10L11.60 -22.15L9.49 -22.15" fill="none" stroke="#000" stroke-width="2.6" stroke-linecap="butt" stroke-linejoin="round"/>
<path transform="translate(113.70 831.05) translate(-48.53 0)" d="M4.22 -9.49L23.21 -9.49 M31.65 -16.88L31.65 -17.93L32.70 -20.04L33.76 -21.10L35.87 -22.15L40.09 -22.15L42.20 -21.10L43.25 -20.04L44.31 -17.93L44.31 -15.82L43.25 -13.71L41.14 -10.55L30.59 0.00L45.36 0.00" fill="none" stroke="#000" stroke-width="2.6" stroke-linecap="butt" stroke-linejoin="round"/>
<path transform="translate(113.70 897.90) translate(-48.53 0)" d="M4.22 -9.49L23.21 -9.49 M41.14 -22.15L30.59 -7.38L46.42 -7.38 M41.14 -22.15L41.14 0.00" fill="none" stroke="#000" stroke-width="2.6" stroke-linecap="butt" stroke-linejoin="round"/>
<path transform="translate(464.70 988.20) translate(-61.52 0)" d="M14.98 -11.77L13.91 -13.91L10.70 -14.98L7.49 -14.98L4.28 -13.91L3.21 -11.77L4.28 -9.63L6.42 -8.56L11.77 -7.49L13.91 -6.42L14.98 -4.28L14.98 -3.21L13.91 -1.07L10.70 0.00L7.49 0.00L4.28 -1.07L3.21 -3.21 M47.08 -26.75L44.94 -24.56L42.80 -21.27L40.66 -16.88L39.59 -11.40L39.59 -7.01L40.66 -1.52L42.80 2.86L44.94 6.15L47.08 8.35 M54.57 -22.47L54.57 0.00 M54.57 -22.47L63.13 0.00 M71.69 -22.47L63.13 0.00 M71.69 -22.47L71.69 0.00 M80.25 -14.98L80.25 0.00 M80.25 -10.70L83.46 -13.91L85.60 -14.98L88.81 -14.98L90.95 -13.91L92.02 -10.70L92.02 0.00 M92.02 -10.70L95.23 -13.91L97.37 -14.98L100.58 -14.98L102.72 -13.91L103.79 -10.70L103.79 0.00 M111.28 -26.75L113.42 -24.56L115.56 -21.27L117.70 -16.88L118.77 -11.40L118.77 -7.01L117.70 -1.52L115.56 2.86L113.42 6.15L111.28 8.35" fill="none" stroke="#000" stroke-width="2.6" stroke-linecap="butt" stroke-linejoin="round"/>
<path transform="translate(162.90 101.35) translate(0.00 0)" d="M15.30 -34.77L12.52 -31.92L9.74 -27.65L6.96 -21.94L5.56 -14.81L5.56 -9.11L6.96 -1.98L9.74 3.72L12.52 8.00L15.30 10.85 M40.34 -29.21L40.34 0.00 M40.34 -15.30L37.56 -18.08L34.77 -19.47L30.60 -19.47L27.82 -18.08L25.04 -15.30L23.65 -11.13L23.65 -8.35L25.04 -4.17L27.82 -1.39L30.60 0.00L34.77 0.00L37.56 -1.39L40.34 -4.17 M50.08 -34.77L52.86 -31.92L55.64 -27.65L58.42 -21.94L59.81 -14.81L59.81 -9.11L58.42 -1.98L55.64 3.72L52.86 8.00L50.08 10.85 M93.20 -29.21L93.20 0.00 M93.20 -29.21L111.28 -29.21 M93.20 -15.30L104.33 -15.30 M93.20 0.00L111.28 0.00 M119.63 -29.21L119.63 0.00 M129.36 -11.13L146.06 -11.13L146.06 -13.91L144.66 -16.69L143.27 -18.08L140.49 -19.47L136.32 -19.47L133.54 -18.08L130.75 -15.30L129.36 -11.13L129.36 -8.35L130.75 -4.17L133.54 -1.39L136.32 0.00L140.49 0.00L143.27 -1.39L146.06 -4.17 M171.09 -15.30L168.31 -18.08L165.53 -19.47L161.36 -19.47L158.57 -18.08L155.79 -15.30L154.40 -11.13L154.40 -8.35L155.79 -4.17L158.57 -1.39L161.36 0.00L165.53 0.00L168.31 -1.39L171.09 -4.17 M182.22 -29.21L182.22 -5.56L183.61 -1.39L186.39 0.00L189.18 0.00 M178.05 -19.47L187.79 -19.47 M197.52 -19.47L197.52 0.00 M197.52 -11.13L198.91 -15.30L201.70 -18.08L204.48 -19.47L208.65 -19.47 M221.17 -19.47L218.39 -18.08L215.61 -15.30L214.21 -11.13L214.21 -8.35L215.61 -4.17L218.39 -1.39L221.17 0.00L225.34 0.00L228.12 -1.39L230.91 -4.17L232.30 -8.35L232.30 -11.13L230.91 -15.30L228.12 -18.08L225.34 -19.47L221.17 -19.47 M242.03 -19.47L242.03 0.00 M242.03 -13.91L246.21 -18.08L248.99 -19.47L253.16 -19.47L255.94 -18.08L257.34 -13.91L257.34 0.00 M290.72 -29.21L290.72 0.00 M310.19 -29.21L310.19 0.00 M290.72 -15.30L310.19 -15.30 M319.93 -11.13L336.62 -11.13L336.62 -13.91L335.23 -16.69L333.84 -18.08L331.06 -19.47L326.88 -19.47L324.10 -18.08L321.32 -15.30L319.93 -11.13L319.93 -8.35L321.32 -4.17L324.10 -1.39L326.88 0.00L331.06 0.00L333.84 -1.39L336.62 -4.17 M361.66 -19.47L361.66 0.00 M361.66 -15.30L358.88 -18.08L356.10 -19.47L351.92 -19.47L349.14 -18.08L346.36 -15.30L344.97 -11.13L344.97 -8.35L346.36 -4.17L349.14 -1.39L351.92 0.00L356.10 0.00L358.88 -1.39L361.66 -4.17 M374.18 -29.21L374.18 -5.56L375.57 -1.39L378.35 0.00L381.13 0.00 M370.01 -19.47L379.74 -19.47 M388.09 -29.21L389.48 -27.82L390.87 -29.21L389.48 -30.60L388.09 -29.21 M389.48 -19.47L389.48 0.00 M400.61 -19.47L400.61 0.00 M400.61 -13.91L404.78 -18.08L407.56 -19.47L411.74 -19.47L414.52 -18.08L415.91 -13.91L415.91 0.00 M442.34 -19.47L442.34 2.78L440.95 6.96L439.56 8.35L436.77 9.74L432.60 9.74L429.82 8.35 M442.34 -15.30L439.56 -18.08L436.77 -19.47L432.60 -19.47L429.82 -18.08L427.04 -15.30L425.65 -11.13L425.65 -8.35L427.04 -4.17L429.82 -1.39L432.60 0.00L436.77 0.00L439.56 -1.39L442.34 -4.17" fill="none" stroke="#000" stroke-width="3.0" stroke-linecap="butt" stroke-linejoin="round"/>
<path transform="translate(35.30 347.90) rotate(-90) translate(0.00 0)" d="M4.28 -22.47L4.28 0.00 M24.61 -14.98L24.61 2.14L23.54 5.35L22.47 6.42L20.33 7.49L17.12 7.49L14.98 6.42 M24.61 -11.77L22.47 -13.91L20.33 -14.98L17.12 -14.98L14.98 -13.91L12.84 -11.77L11.77 -8.56L11.77 -6.42L12.84 -3.21L14.98 -1.07L17.12 0.00L20.33 0.00L22.47 -1.07L24.61 -3.21 M64.20 -19.26L62.06 -21.40L58.85 -22.47L54.57 -22.47L51.36 -21.40L49.22 -19.26L49.22 -17.12L50.29 -14.98L51.36 -13.91L53.50 -12.84L59.92 -10.70L62.06 -9.63L63.13 -8.56L64.20 -6.42L64.20 -3.21L62.06 -1.07L58.85 0.00L54.57 0.00L51.36 -1.07L49.22 -3.21 M69.40 2.82L77.36 2.82L77.36 1.50L76.70 0.17L76.03 -0.49L74.71 -1.16L72.72 -1.16L71.39 -0.49L70.06 0.83L69.40 2.82L69.40 4.15L70.06 6.14L71.39 7.47L72.72 8.13L74.71 8.13L76.03 7.47L77.36 6.14 M108.24 -26.75L106.10 -24.56L103.96 -21.27L101.82 -16.88L100.75 -11.40L100.75 -7.01L101.82 -1.52L103.96 2.86L106.10 6.15L108.24 8.35 M114.66 -8.56L127.50 -8.56L127.50 -10.70L126.43 -12.84L125.36 -13.91L123.22 -14.98L120.01 -14.98L117.87 -13.91L115.73 -11.77L114.66 -8.56L114.66 -6.42L115.73 -3.21L117.87 -1.07L120.01 0.00L123.22 0.00L125.36 -1.07L127.50 -3.21 M134.99 -14.98L134.99 0.00 M134.99 -8.56L136.06 -11.77L138.20 -13.91L140.34 -14.98L143.55 -14.98 M160.67 -14.98L160.67 2.14L159.60 5.35L158.53 6.42L156.39 7.49L153.18 7.49L151.04 6.42 M160.67 -11.77L158.53 -13.91L156.39 -14.98L153.18 -14.98L151.04 -13.91L148.90 -11.77L147.83 -8.56L147.83 -6.42L148.90 -3.21L151.04 -1.07L153.18 0.00L156.39 0.00L158.53 -1.07L160.67 -3.21 M197.05 -11.77L195.98 -13.91L192.77 -14.98L189.56 -14.98L186.35 -13.91L185.28 -11.77L186.35 -9.63L188.49 -8.56L193.84 -7.49L195.98 -6.42L197.05 -4.28L197.05 -3.21L195.98 -1.07L192.77 0.00L189.56 0.00L186.35 -1.07L185.28 -3.21 M202.91 -22.66L214.86 -22.66 M221.49 -27.97L222.82 -28.63L224.81 -30.62L224.81 -16.69 M246.83 -11.77L244.69 -13.91L242.55 -14.98L239.34 -14.98L237.20 -13.91L235.06 -11.77L233.99 -8.56L233.99 -6.42L235.06 -3.21L237.20 -1.07L239.34 0.00L242.55 0.00L244.69 -1.07L246.83 -3.21 M254.32 -14.98L254.32 0.00 M254.32 -10.70L257.53 -13.91L259.67 -14.98L262.88 -14.98L265.02 -13.91L266.09 -10.70L266.09 0.00 M266.09 -10.70L269.30 -13.91L271.44 -14.98L274.65 -14.98L276.79 -13.91L277.86 -10.70L277.86 0.00 M284.79 -22.66L296.73 -22.66 M302.70 -30.62L310.00 -30.62L306.02 -25.32L308.01 -25.32L309.34 -24.65L310.00 -23.99L310.66 -22.00L310.66 -20.67L310.00 -18.68L308.67 -17.36L306.68 -16.69L304.69 -16.69L302.70 -17.36L302.04 -18.02L301.38 -19.35 M315.86 -26.75L318.00 -24.56L320.14 -21.27L322.28 -16.88L323.35 -11.40L323.35 -7.01L322.28 -1.52L320.14 2.86L318.00 6.15L315.86 8.35" fill="none" stroke="#000" stroke-width="2.6" stroke-linecap="butt" stroke-linejoin="round"/>
</svg>
</body></html>
